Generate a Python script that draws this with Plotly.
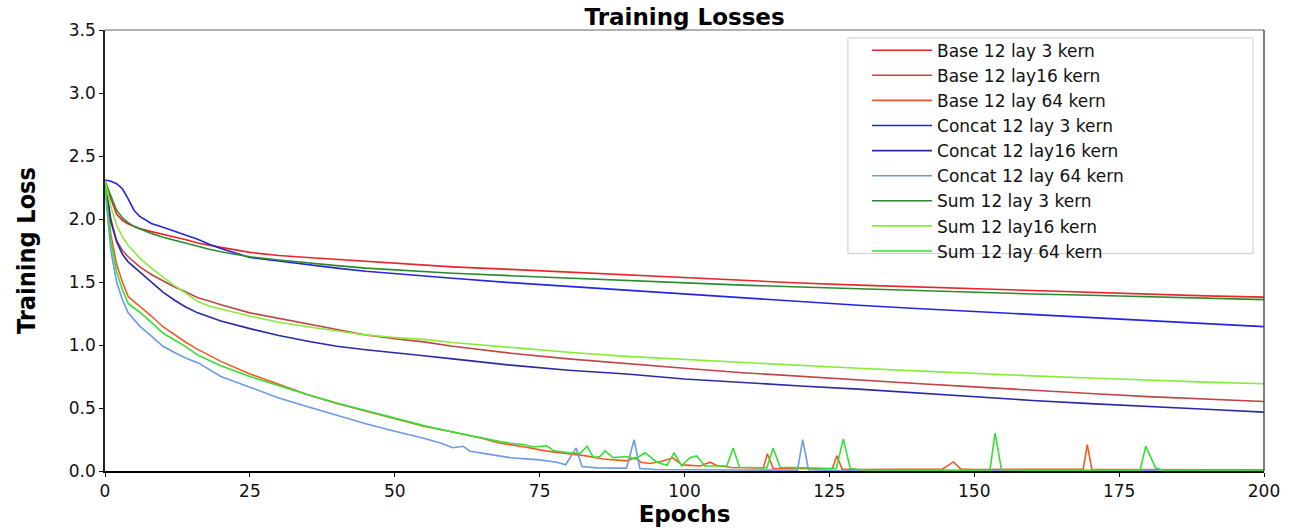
import plotly.graph_objects as go

# ---------------- data ----------------
epochs_smooth = [0, 1, 2, 3, 4, 5, 6, 8, 10, 12, 14, 16, 18, 20, 25, 30, 35, 40, 45, 50,
                 55, 60, 70, 80, 90, 100, 110, 120, 130, 140, 150, 160, 170, 180, 190, 200]

base_3 = [2.30, 2.16, 2.04, 1.99, 1.96, 1.94, 1.925, 1.90, 1.88, 1.86, 1.835, 1.81, 1.79, 1.775,
          1.735, 1.71, 1.695, 1.68, 1.665, 1.65, 1.635, 1.62, 1.60, 1.578, 1.558, 1.535, 1.512,
          1.492, 1.475, 1.46, 1.445, 1.43, 1.415, 1.40, 1.39, 1.38]
base_16 = [2.30, 2.00, 1.83, 1.75, 1.70, 1.66, 1.62, 1.56, 1.51, 1.46, 1.42, 1.375, 1.35, 1.32,
           1.255, 1.21, 1.165, 1.12, 1.08, 1.05, 1.025, 0.99, 0.935, 0.89, 0.85, 0.815, 0.78,
           0.75, 0.72, 0.695, 0.668, 0.64, 0.615, 0.59, 0.57, 0.552]
concat_3 = [2.31, 2.30, 2.28, 2.24, 2.16, 2.07, 2.02, 1.965, 1.935, 1.905, 1.875, 1.84, 1.80, 1.765,
            1.695, 1.665, 1.635, 1.61, 1.585, 1.565, 1.545, 1.53, 1.495, 1.465, 1.435, 1.40, 1.37,
            1.34, 1.315, 1.29, 1.265, 1.24, 1.215, 1.19, 1.17, 1.146]
concat_16 = [2.30, 1.98, 1.82, 1.72, 1.66, 1.62, 1.585, 1.50, 1.42, 1.355, 1.30, 1.255, 1.22, 1.19,
             1.13, 1.075, 1.03, 0.99, 0.962, 0.94, 0.915, 0.89, 0.84, 0.80, 0.77, 0.73, 0.70,
             0.675, 0.65, 0.62, 0.585, 0.56, 0.535, 0.51, 0.49, 0.467]
sum_3 = [2.30, 2.18, 2.07, 2.01, 1.97, 1.94, 1.92, 1.885, 1.855, 1.83, 1.81, 1.785, 1.76, 1.74,
         1.70, 1.675, 1.65, 1.63, 1.61, 1.595, 1.58, 1.57, 1.55, 1.53, 1.51, 1.492, 1.475, 1.46,
         1.445, 1.43, 1.417, 1.405, 1.395, 1.383, 1.372, 1.36]
sum_16 = [2.30, 2.10, 1.95, 1.86, 1.79, 1.74, 1.69, 1.61, 1.54, 1.47, 1.41, 1.345, 1.31, 1.285,
          1.23, 1.18, 1.145, 1.11, 1.08, 1.06, 1.045, 1.02, 0.98, 0.942, 0.91, 0.885, 0.86,
          0.835, 0.815, 0.795, 0.773, 0.755, 0.738, 0.72, 0.705, 0.692]

epochs_base_64 = [0, 1, 2, 3, 4, 6, 8, 10, 12, 14, 16, 20, 25, 30, 35, 40, 45, 50, 55, 60, 65,
                  68, 72, 76, 80, 83, 86, 90, 91.5, 92.5, 94, 96, 98, 99.5, 101, 102.7, 104.4,
                  105.5, 108, 111, 113.6, 114.3, 115.3, 118, 122, 125.5, 126.3, 127.2, 130, 135,
                  140, 144.5, 146.4, 147.7, 150, 155, 160, 165, 168.8, 169.5, 170.3, 175, 180,
                  185, 190, 195, 200]
base_64 = [2.28, 1.88, 1.64, 1.50, 1.385, 1.31, 1.23, 1.145, 1.08, 1.02, 0.965, 0.87, 0.77, 0.685,
           0.605, 0.535, 0.475, 0.41, 0.355, 0.31, 0.26, 0.222, 0.195, 0.16, 0.138, 0.12, 0.095,
           0.08, 0.105, 0.07, 0.06, 0.075, 0.105, 0.05, 0.045, 0.04, 0.07, 0.045, 0.028, 0.026,
           0.025, 0.137, 0.02, 0.02, 0.018, 0.018, 0.12, 0.015, 0.012, 0.012, 0.012, 0.015,
           0.072, 0.015, 0.012, 0.012, 0.012, 0.012, 0.015, 0.21, 0.012, 0.012, 0.01, 0.01,
           0.01, 0.01, 0.01]

epochs_concat_64 = [0, 1, 2, 3, 4, 6, 8, 10, 12, 14, 16, 20, 25, 30, 35, 40, 45, 50, 55, 58, 60,
                    61.8, 63, 66.4, 70, 75, 78, 79.5, 81.3, 82.3, 85, 90, 91.3, 92.3, 95, 110,
                    119.5, 120.4, 121.4, 125, 150, 182]
concat_64 = [2.25, 1.75, 1.50, 1.36, 1.255, 1.15, 1.07, 0.99, 0.94, 0.895, 0.86, 0.75, 0.665,
             0.58, 0.51, 0.44, 0.375, 0.315, 0.26, 0.22, 0.185, 0.196, 0.157, 0.132, 0.105,
             0.088, 0.07, 0.05, 0.183, 0.036, 0.025, 0.023, 0.248, 0.02, 0.012, 0.008, 0.006,
             0.248, 0.01, 0.005, 0.003, 0.003]

epochs_sum_64 = [0, 1, 2, 3, 4, 6, 8, 10, 12, 14, 16, 20, 25, 30, 35, 40, 45, 50, 55, 60, 65, 68,
                 70, 72.2, 74, 76.2, 77.5, 80, 82, 83.2, 84.3, 85.4, 86.3, 87.7, 90, 91.5, 93.2,
                 95.2, 97, 98.2, 99.5, 100.9, 102.1, 103.5, 107.3, 108.4, 109.5, 114.2, 115.3,
                 116.5, 126.2, 127.4, 128.6, 131, 140, 152.7, 153.6, 154.7, 160, 170, 178.6,
                 179.6, 181.3, 182.5, 190, 200]
sum_64 = [2.28, 1.82, 1.58, 1.44, 1.33, 1.26, 1.18, 1.095, 1.04, 0.985, 0.92, 0.835, 0.75, 0.675,
          0.605, 0.54, 0.48, 0.415, 0.36, 0.31, 0.26, 0.235, 0.22, 0.21, 0.19, 0.20, 0.16, 0.145,
          0.14, 0.196, 0.106, 0.115, 0.16, 0.106, 0.115, 0.095, 0.145, 0.07, 0.045, 0.145, 0.04,
          0.106, 0.12, 0.04, 0.04, 0.183, 0.03, 0.025, 0.183, 0.03, 0.02, 0.255, 0.02, 0.008,
          0.005, 0.005, 0.30, 0.01, 0.005, 0.005, 0.005, 0.196, 0.025, 0.005, 0.005, 0.005]

series_names = ["Base 12 lay 3 kern", "Base 12 lay16 kern", "Base 12 lay 64 kern",
                "Concat 12 lay 3 kern", "Concat 12 lay16 kern", "Concat 12 lay 64 kern",
                "Sum 12 lay 3 kern", "Sum 12 lay16 kern", "Sum 12 lay 64 kern"]
series_x = [epochs_smooth, epochs_smooth, epochs_base_64,
            epochs_smooth, epochs_smooth, epochs_concat_64,
            epochs_smooth, epochs_smooth, epochs_sum_64]
series_y = [base_3, base_16, base_64, concat_3, concat_16, concat_64, sum_3, sum_16, sum_64]
series_colors = ["#e8262a", "#c04545", "#f05a22",
                 "#2424e6", "#2a2aa6", "#6b9ae8",
                 "#2b8a2b", "#86ec38", "#35e035"]

x_ticks = [0, 25, 50, 75, 100, 125, 150, 175, 200]
y_ticks = [0.0, 0.5, 1.0, 1.5, 2.0, 2.5, 3.0, 3.5]

# ---------------- figure ----------------
fig = go.Figure()
for name, xs, ys, col in zip(series_names, series_x, series_y, series_colors):
    fig.add_trace(go.Scatter(x=xs, y=ys, mode="lines", name=name,
                             line=dict(color=col, width=1.6)))

font_main = "DejaVu Sans, Verdana, sans-serif"

fig.update_layout(
    width=1304, height=531,
    margin=dict(l=105, r=40, t=30, b=49),
    paper_bgcolor="white", plot_bgcolor="white",
    font=dict(family=font_main, color="#111111"),
    title=dict(text="Training Losses", x=0.525, xanchor="center", y=0.968, yanchor="middle",
               font=dict(family=font_main, size=23, weight="bold", color="black")),
    showlegend=True,
    legend=dict(x=0.6575, xanchor="left", y=0.994, yanchor="top",
                bgcolor="rgba(0,0,0,0)", borderwidth=0, itemwidth=60,
                font=dict(family=font_main, size=17, color="#111111")),
    shapes=[
        dict(type="rect", xref="paper", yref="paper", x0=0.641, x1=0.9905, y0=0.493, y1=0.982,
             line=dict(color="#cccccc", width=1), fillcolor="rgba(255,255,255,0.8)", layer="below"),
        dict(type="line", xref="paper", yref="paper", x0=0, x1=1, y0=1, y1=1,
             line=dict(color="#999999", width=1.5)),
        dict(type="line", xref="paper", yref="paper", x0=1, x1=1, y0=0, y1=1,
             line=dict(color="#555555", width=1.5)),
    ],
)

fig.update_xaxes(range=[0, 200], tickvals=x_ticks, ticktext=[str(v) for v in x_ticks],
                 showgrid=False, zeroline=False, showline=True, linecolor="black", linewidth=1.5,
                 ticks="outside", ticklen=4, tickcolor="black",
                 tickfont=dict(family=font_main, size=17, color="#111111"),
                 title=dict(text="Epochs", standoff=2,
                            font=dict(family=font_main, size=23, weight="bold", color="black")))
fig.update_yaxes(range=[0, 3.5], tickvals=y_ticks, ticktext=[f"{v:.1f}" for v in y_ticks],
                 showgrid=False, zeroline=False, showline=True, linecolor="#222222", linewidth=1.5,
                 ticks="outside", ticklen=4, tickcolor="black",
                 tickfont=dict(family=font_main, size=17, color="#111111"),
                 title=dict(text="Training Loss", standoff=26,
                            font=dict(family="Liberation Sans Narrow, DejaVu Sans Condensed, Roboto Condensed, Liberation Sans",
                                      size=25, weight="bold", color="black")))

fig.write_html("out.html", config={"displayModeBar": False},
               post_script="document.body.style.margin='0';")
